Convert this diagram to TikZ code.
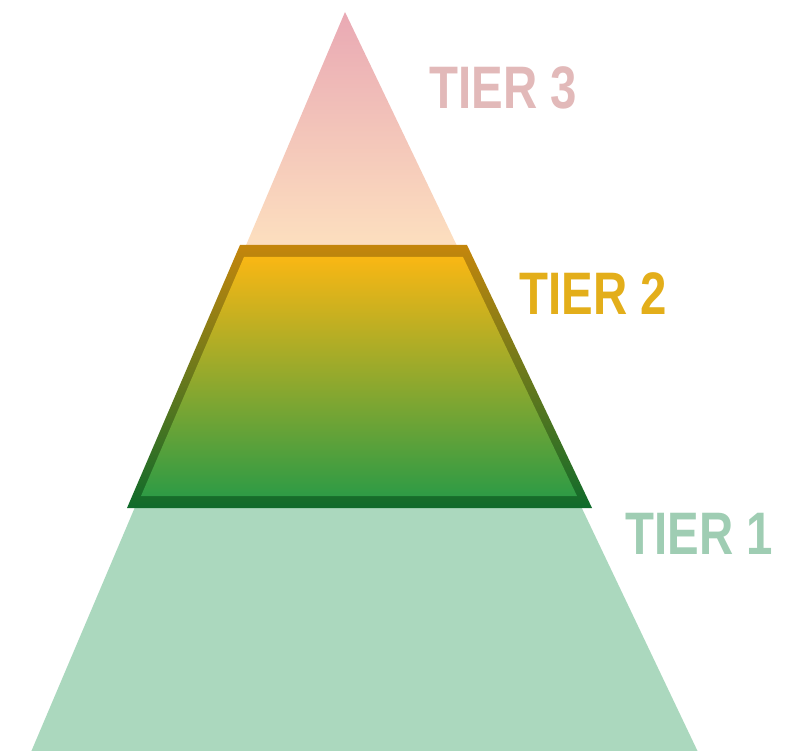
\documentclass[tikz,border=0pt]{standalone}
\usepackage{fontspec}
\setmainfont{Liberation Sans}
\definecolor{pinktop}{HTML}{E9A9B4}
\definecolor{peach}{HTML}{FDE0BF}
\definecolor{mint}{HTML}{ABD8BE}
\definecolor{goldtop}{HTML}{F9B714}
\definecolor{olive}{HTML}{ABA62E}
\definecolor{grass}{HTML}{2E9B45}
\definecolor{goldedge}{HTML}{C4860C}
\definecolor{oliveedge}{HTML}{7B7F1E}
\definecolor{darkgrass}{HTML}{0F6B2B}
\definecolor{labthree}{HTML}{E2B9B9}
\definecolor{labtwo}{HTML}{E3AE1A}
\definecolor{labone}{HTML}{9FCDB3}
\begin{document}
\begin{tikzpicture}[x=1pt,y=-1pt,
  tierlabel/.style={inner sep=0pt,font=\fontsize{60}{60}\selectfont\bfseries,xscale=0.79}]
\useasboundingbox (0,0) rectangle (790,751);

\coordinate (A) at (345,12);
\coordinate (L) at (31,752);
\coordinate (R) at (698,752);

% tier 3 and tier 1
\shade[top color=pinktop,bottom color=peach] (A)--(459,250)--(244,250)--cycle;
\fill[mint] (138,500)--(578,500)--(R)--(L)--cycle;

% tier 2
\shade[top color=goldedge,middle color=oliveedge,bottom color=darkgrass]
  (240,245)--(467,245)--(592,508)--(127,508)--cycle;
\shade[top color=goldtop,middle color=olive,bottom color=grass]
  (244,257)--(463,257)--(577,496)--(141,496)--cycle;

\node[tierlabel,text=labthree] (t3) at (503,88) {TIER 3};
\node[tierlabel,text=labtwo] (t2) at (593,294) {TIER 2};
\node[tierlabel,text=labone] (t1) at (699,534) {TIER 1};
\end{tikzpicture}
\end{document}
